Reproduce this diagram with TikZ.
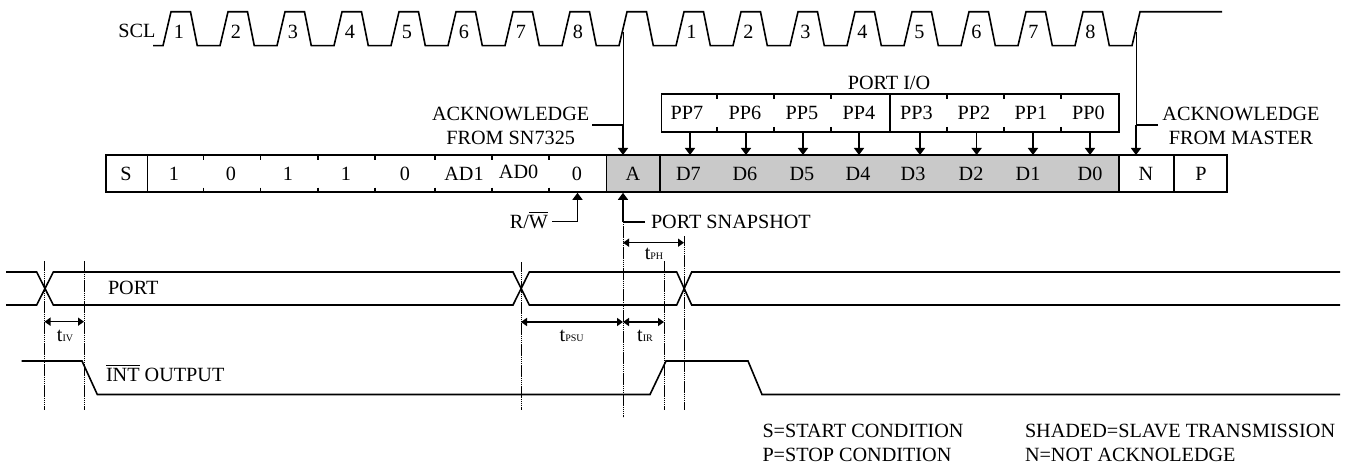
\documentclass[tikz,border=0pt]{standalone}
\usepackage{fontspec}
\setmainfont{Liberation Serif}
\usetikzlibrary{arrows.meta}
\tikzset{
  lab/.style={inner sep=0pt,outer sep=0pt,text height=13.2pt,text depth=0pt,font=\fontsize{20.2}{23}\selectfont},
  wave/.style={line width=1.6pt,line join=miter},
  frame/.style={line width=1.8pt},
  tickl/.style={line width=1.4pt},
  guide/.style={line width=1pt,dash pattern=on 1.6pt off 0.5pt},
  lead/.style={line width=1.6pt},
  arr/.style={line width=1.5pt,-{Triangle[length=7pt,width=10pt]}},
  dim/.style={line width=1.5pt,{Triangle[length=6pt,width=8pt]}-{Triangle[length=6pt,width=8pt]}},
}
\newcommand{\tsub}[1]{t{\fontsize{10}{12}\selectfont #1}}
\newcommand{\barred}[1]{$\overline{\mbox{\rule{0pt}{14.6pt}#1}}$}
\begin{document}
\begin{tikzpicture}[x=1pt,y=-1pt]
\useasboundingbox (0,0) rectangle (1352,468);
% SCL
\draw[wave] (153,45.7)
  \foreach \k in {0,...,16}{ -- ({163+57*\k},45.7) -- ({171+57*\k},11.8) -- ({190.5+57*\k},11.8) -- ({197.3+57*\k},45.7) }
  -- (1132,45.7) -- (1140,11.8) -- (1222,11.8);
\node[lab,anchor=east] (scl) at (155.5,30.5) {SCL};
\foreach \n/\t/\x in {a1/1/179,a2/2/236,a3/3/293,a4/4/350,a5/5/407,a6/6/464,a7/7/521,a8/8/578,
                   b1/1/691.5,b2/2/748.5,b3/3/805.5,b4/4/862.5,b5/5/919.5,b6/6/976.5,b7/7/1033.5,b8/8/1090.5}{
  \node[lab] (\n) at (\x,31.5) {\t};
}
% register
\fill[gray!42] (606.4,155) rectangle (1118.7,192.3);
\draw[frame] (106,155) rectangle (1227,192.3);
\foreach \x in {147.5,606.4,659.6,1118.7,1174}{\draw[frame] (\x,155) -- (\x,192.3);}
\foreach \x in {203.6,260.7,317.9,375,435,491.8,549}{
  \draw[tickl] (\x,155) -- (\x,160);
  \draw[tickl] (\x,187.5) -- (\x,192.3);
}
\foreach \n/\t/\x in {rs/S/126,r1/1/174,r2/0/231,r3/1/288,r4/1/346,r5/0/405,ra/AD1/464,rn/0/577,rA/A/633,
  d7/D7/688.5,d6/D6/745,d5/D5/802,d4/D4/858,d3/D3/913,d2/D2/971,d1/D1/1028,d0/D0/1090,rN/N/1146,rP/P/1201}{
  \node[lab] (\n) at (\x,173.5) {\t};
}
\node[lab] (rb) at (518.6,172.3) {AD0};
% PP box
\draw[frame] (661.5,94) rectangle (1118.7,131.7);
\draw[frame] (890,94) -- (890,131.7);
\foreach \x in {717,774,831,947,1004,1061}{
  \draw[tickl] (\x,94) -- (\x,99);
  \draw[tickl] (\x,127) -- (\x,131.7);
}
\foreach \t/\x in {PP7/687,PP6/745,PP5/802,PP4/859,PP3/916.5,PP2/974,PP1/1031,PP0/1088.5}{
  \node[lab] (\t) at (\x,113.3) {\t};
}
\node[lab] (portio) at (889,83.3) {PORT I/O};
\foreach \n/\x in {7/690,6/746,5/803,4/859,3/920,2/976.6,1/1033,0/1090}{
  \coordinate (pb\n) at (\x,132);
  \coordinate (dt\n) at (\x,155);
  \draw[arr] (pb\n) -- (dt\n);
}
% acknowledge
\coordinate (sclA) at (623,32);
\coordinate (regA) at (623,155);
\coordinate (ackL) at (592,125);
\coordinate (ackJ) at (623,125);
\draw[line width=1pt] (sclA) -- (ackJ);
\draw[arr] (ackJ) -- (regA);
\draw[lead] (ackL) -- (ackJ);
\node[lab] (ack1) at (510.7,114) {ACKNOWLEDGE};
\node[lab] (ack2) at (510.7,137.7) {FROM SN7325};
\coordinate (sclN) at (1136,32);
\coordinate (regN) at (1136,155);
\coordinate (ackR) at (1158,125);
\coordinate (ackK) at (1136,125);
\draw[line width=1pt] (sclN) -- (ackK);
\draw[arr] (ackK) -- (regN);
\draw[lead] (ackR) -- (ackK);
\node[lab] (ack3) at (1241,114) {ACKNOWLEDGE};
\node[lab] (ack4) at (1241,137.7) {FROM MASTER};
% R/W
\node[lab,anchor=east] (rw) at (548,221.5) {R/\barred{W}};
\coordinate (rwa) at (552,221.5);
\coordinate (rwb) at (577.5,221.5);
\coordinate (rwt) at (577.5,192.8);
\draw[lead] (rwa) -- (rwb);
\draw[arr] (rwb) -- (rwt);
% Port snapshot
\node[lab,anchor=west] (snap) at (651,222) {PORT SNAPSHOT};
\coordinate (sa) at (645,221.7);
\coordinate (sb) at (623,221.7);
\coordinate (st) at (623,192.8);
\draw[lead] (sa) -- (sb);
\draw[arr] (sb) -- (st);
% guides
\coordinate (gAb) at (623,417);
\draw[guide] (sb) -- (gAb);
\foreach \n/\x/\a/\b in {a/44.5/261/410,b/84/261/410,c/521/262/410,d/664/261/410,e/684/236/410}{
  \coordinate (g\n t) at (\x,\a);
  \coordinate (g\n b) at (\x,\b);
  \draw[guide] (g\n t) -- (g\n b);
}
% PORT
\draw[wave] (6,272) -- (36.7,272) -- (53.3,305) -- (513,305) -- (529.3,272) -- (676.7,272) -- (691.7,305) -- (1340,305);
\draw[wave] (6,305) -- (36.7,305) -- (53.3,272) -- (513,272) -- (529.3,305) -- (676.7,305) -- (691.7,272) -- (1340,272);
\node[lab,anchor=west] (port) at (108,288) {PORT};
% INT
\draw[wave] (21.7,361) -- (82,361) -- (97.3,394.5) -- (650,394.5) -- (666,361) -- (748,361) -- (762,394.5) -- (1340,394.5);
\node[lab,anchor=west] (int) at (106,375) {\barred{INT} OUTPUT};
% dims
\coordinate (d1l) at (44.5,321.7); \coordinate (d1r) at (84,321.7);
\draw[dim] (d1l) -- (d1r);
\coordinate (d2l) at (521,322); \coordinate (d2r) at (623,322); \coordinate (d3r) at (664,322);
\draw[dim] (d2l) -- (d2r);
\draw[dim] (d2r) -- (d3r);
\coordinate (d4l) at (623,242.7); \coordinate (d4r) at (684,242.7);
\draw[dim] (d4l) -- (d4r);
\node[lab] (tiv) at (65,335) {\tsub{IV}};
\node[lab] (tpsu) at (571.7,335) {\tsub{PSU}};
\node[lab] (tir) at (645,335) {\tsub{IR}};
\node[lab] (tph) at (654,252.5) {\tsub{PH}};
% legend
\node[lab,anchor=west] (l1) at (762.5,431.3) {S=START CONDITION};
\node[lab,anchor=west] (l2) at (762.5,455.3) {P=STOP CONDITION};
\node[lab,anchor=west] (l3) at (1025,431.3) {SHADED=SLAVE TRANSMISSION};
\node[lab,anchor=west] (l4) at (1025,455.3) {N=NOT ACKNOLEDGE};
\end{tikzpicture}
\end{document}
